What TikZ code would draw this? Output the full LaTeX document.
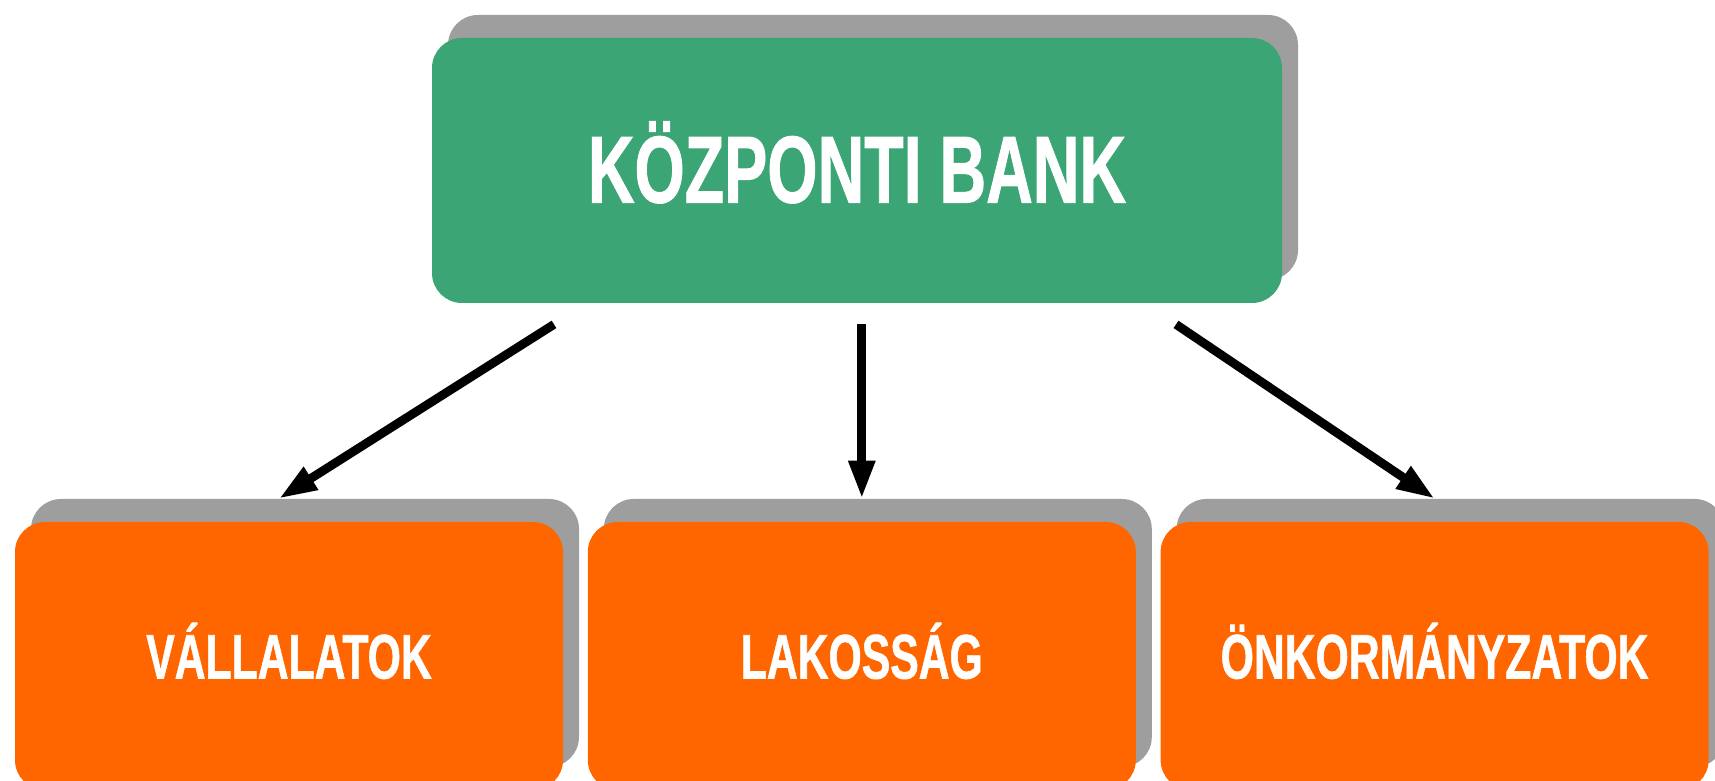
\documentclass[tikz,border=0pt]{standalone}
\usepackage{fontspec}
\usepackage{graphicx}
\setmainfont{Liberation Sans}[BoldFeatures = {FakeBold = 1.2}]
\usetikzlibrary{positioning,shadows,arrows.meta}
\definecolor{bankgreen}{HTML}{3BA575}
\definecolor{sectororange}{HTML}{FF6600}
\definecolor{shadowgray}{HTML}{9E9E9E}
\newcommand{\narrowtext}[1]{\scalebox{0.68}[1]{#1}}
\tikzset{
	box/.style = {rounded corners = 15pt, text = white, align = center, inner sep = 0pt,
		drop shadow = {shadow xshift = 8pt, shadow yshift = 11.5pt, fill = shadowgray, opacity = 1}},
	bankbox/.style = {box, fill = bankgreen, minimum width = 425pt, minimum height = 132.5pt,
		text height = 34pt, text depth = 2pt, font = \bfseries\fontsize{47.5}{50}\selectfont},
	sectorbox/.style = {box, fill = sectororange, minimum width = 274pt, minimum height = 134pt,
		text height = 22.5pt, text depth = 0pt, font = \bfseries\fontsize{31.4}{34}\selectfont},
	arr/.style = {-{Triangle[length = 19pt, width = 12.5pt]}, line width = 4.4pt}
}
\begin{document}
\begin{tikzpicture}[x = 0.5pt, y = 0.5pt]
			\path[use as bounding box, fill = white] (0,0) rectangle (1715,781);
			\node[bankbox] (bank) at (857,610.5) {\narrowtext{KÖZPONTI BANK}};
			\node[sectorbox] (vall) at (289,125) {\narrowtext{VÁLLALATOK}};
			\node[sectorbox, right = 12pt of vall] (lak) {\narrowtext{LAKOSSÁG}};
			\node[sectorbox, right = 12pt of lak] (onk) {\narrowtext{ÖNKORMÁNYZATOK}};
			\draw[arr] ([xshift = -151.5pt, yshift = -10.5pt]bank.south) -- ([xshift = -5pt, yshift = 11.5pt]vall.north);
			\draw[arr] (lak.north |- bank.south) ++(0,-21) -- ([yshift = 11.5pt]lak.north);
			\draw[arr] ([xshift = 159.5pt, yshift = -10.5pt]bank.south) -- ([yshift = 11.5pt]onk.north);
\end{tikzpicture}
\end{document}
